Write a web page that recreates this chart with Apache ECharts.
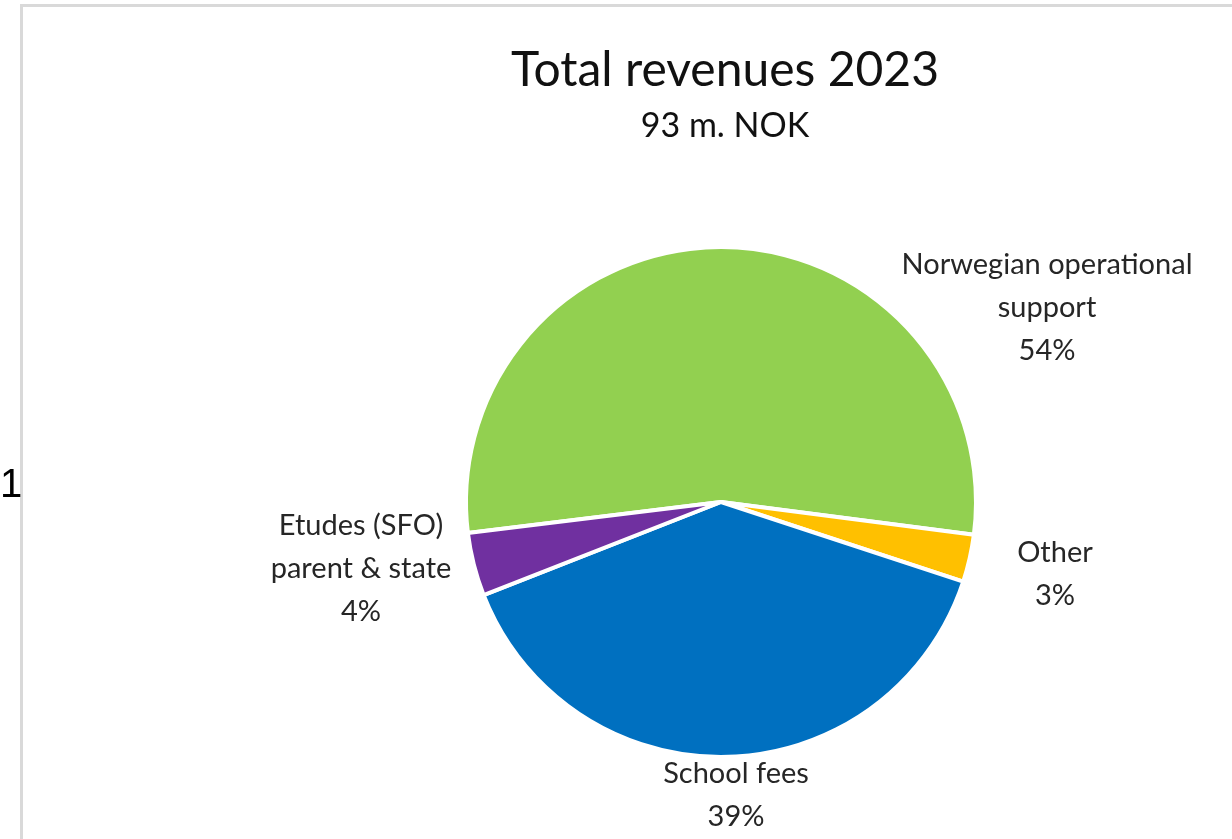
<!DOCTYPE html>
<html>
<head>
<meta charset="utf-8">
<script src="https://cdn.jsdelivr.net/npm/echarts@6/dist/echarts.min.js"></script>
<style>
html,body{margin:0;padding:0;background:#fff;}
#c{width:1232px;height:839px;}
</style>
</head>
<body>
<div id="c"></div>
<script>
const categories = ['Norwegian operational support', 'Other', 'School fees', 'Etudes (SFO) parent & state'];
const labelLines = ['Norwegian operational\nsupport', 'Other', 'School fees', 'Etudes (SFO)\nparent & state'];
const values = [54, 3, 39, 4];
const colors = ['#92D050', '#FFC000', '#0070C0', '#7030A0'];
const titleText = 'Total revenues 2023';
const subtitleText = '93 m. NOK';

const FONT = 'Lato, "Open Sans", sans-serif';
const labelPos = [[1047, 308], [1055, 574], [736, 795], [361, 569]];

const chart = echarts.init(document.getElementById('c'));
chart.setOption({
  backgroundColor: '#fff',
  animation: false,
  title: {
    text: titleText,
    subtext: subtitleText,
    left: 720,
    textAlign: 'center',
    top: 42,
    itemGap: 14,
    textStyle: {fontFamily: FONT, fontSize: 48, fontWeight: 'normal', color: '#111'},
    subtextStyle: {fontFamily: FONT, fontSize: 34, color: '#111'}
  },
  graphic: [
    {type: 'polyline', shape: {points: [[21.5, 839], [21.5, 5.5], [1232, 5.5]]},
     style: {stroke: '#d9d9d9', lineWidth: 3, fill: null}},
    {type: 'text', left: 0, top: 466, style: {text: '1', font: '40px "Liberation Sans", sans-serif', fill: '#000'}}
  ],
  series: [{
    type: 'pie',
    center: [721, 502],
    radius: 255,
    startAngle: 187,
    clockwise: true,
    data: categories.map((n, i) => ({name: n, value: values[i], itemStyle: {color: colors[i]}})),
    itemStyle: {borderColor: '#fff', borderWidth: 4},
    label: {
      show: true,
      formatter: p => labelLines[p.dataIndex] + '\n' + values[p.dataIndex] + '%',
      fontFamily: FONT,
      fontSize: 29,
      lineHeight: 43,
      color: '#262626',
      align: 'center'
    },
    labelLine: {show: false},
    labelLayout: p => ({x: labelPos[p.dataIndex][0], y: labelPos[p.dataIndex][1], align: 'center', verticalAlign: 'middle', hideOverlap: false}),
    emphasis: {disabled: true}
  }]
});
</script>
</body>
</html>
